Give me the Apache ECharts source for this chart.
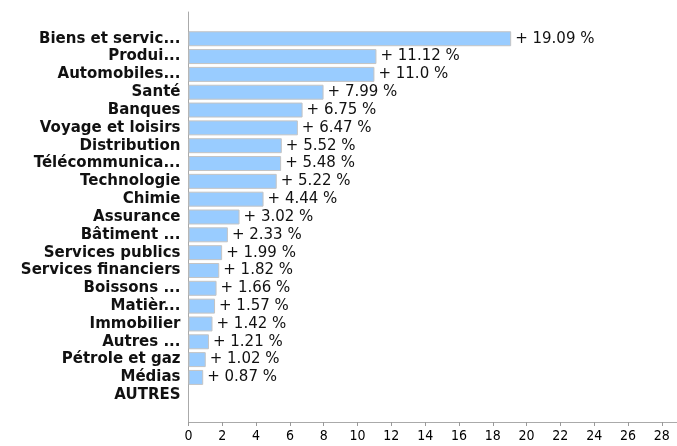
<!DOCTYPE html>
<html>
<head>
<meta charset="utf-8">
<script src="https://cdn.jsdelivr.net/npm/echarts@6/dist/echarts.min.js"></script>
<style>
html,body{margin:0;padding:0;background:#fff;}
#chart{width:677px;height:446px;}
</style>
</head>
<body>
<div id="chart"></div>
<script>
var categories = ["Biens et servic...", "Produi...", "Automobiles...", "Santé", "Banques", "Voyage et loisirs", "Distribution", "Télécommunica...", "Technologie", "Chimie", "Assurance", "Bâtiment ...", "Services publics", "Services financiers", "Boissons ...", "Matièr...", "Immobilier", "Autres ...", "Pétrole et gaz", "Médias", "AUTRES"];
var values = [19.09, 11.12, 11.0, 7.99, 6.75, 6.47, 5.52, 5.48, 5.22, 4.44, 3.02, 2.33, 1.99, 1.82, 1.66, 1.57, 1.42, 1.21, 1.02, 0.87, null];
var xTicks = [0, 2, 4, 6, 8, 10, 12, 14, 16, 18, 20, 22, 24, 26, 28];

// one empty band above and below the categories
var cats = [''].concat(categories).concat(['']);
var vals = [null].concat(values).concat([null]);

var chart = echarts.init(document.getElementById('chart'), null, {renderer: 'canvas'});
chart.setOption({
  animation: false,
  grid: {left: 188.5, right: 0, top: 12, bottom: 24, containLabel: false},
  xAxis: {
    type: 'value', min: xTicks[0], max: 28.9, interval: 2,
    axisLine: {show: true, lineStyle: {color: '#aaaaaa', width: 1}},
    axisTick: {show: true, length: 4, lineStyle: {color: '#999999'}},
    splitLine: {show: false},
    axisLabel: {
      showMaxLabel: false, margin: 7, color: '#000',
      fontFamily: 'DejaVu Sans Condensed', fontSize: 14
    }
  },
  yAxis: {
    type: 'category', data: cats, inverse: true,
    axisLine: {show: true, lineStyle: {color: '#aaaaaa', width: 1}},
    axisTick: {show: false},
    splitLine: {show: false},
    axisLabel: {
      margin: 8, color: '#111', fontFamily: 'DejaVu Sans',
      fontWeight: 'bold', fontSize: 15, interval: 0
    }
  },
  series: [{
    type: 'bar', data: vals, barCategoryGap: '16%',
    itemStyle: {color: '#99ccff', borderColor: '#c4c4c4', borderWidth: 1},
    label: {
      show: true, position: 'right', distance: 4, color: '#111',
      fontFamily: 'DejaVu Sans', fontSize: 15,
      formatter: function (p) {
        if (p.value == null) return '';
        var v = p.value;
        var s = (v % 1 === 0) ? v.toFixed(1) : String(v);
        return '+ ' + s + ' %';
      }
    }
  }]
});
</script>
</body>
</html>
